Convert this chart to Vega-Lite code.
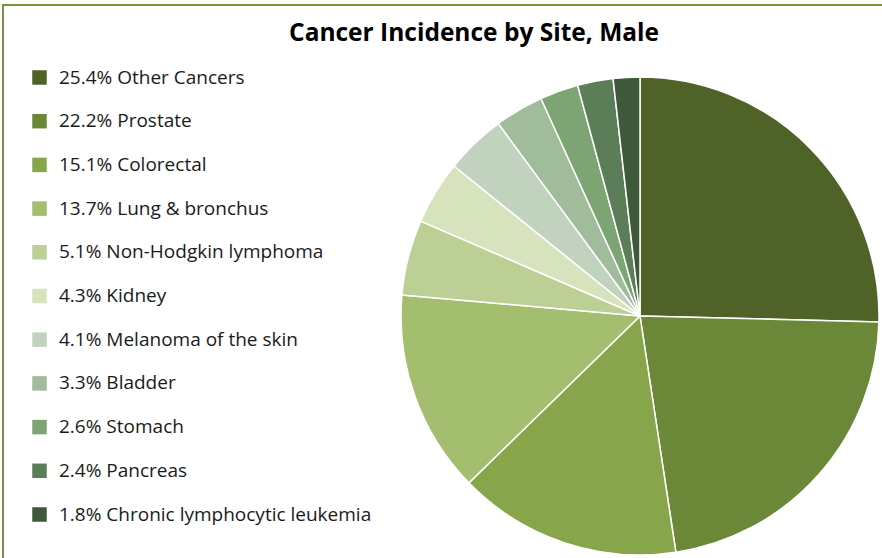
{
  "$schema": "https://vega.github.io/schema/vega-lite/v6.json",
  "autosize": "none",
  "width": 882,
  "height": 560,
  "padding": {"left": 3, "top": 5, "right": 0, "bottom": 0},
  "background": "white",
  "config": {
    "view": {"stroke": null},
    "font": "Open Sans"
  },
  "title": {
    "text": "Cancer Incidence by Site, Male",
    "font": "Open Sans",
    "fontSize": 24.5,
    "fontWeight": "bold",
    "color": "#000000",
    "anchor": "middle",
    "dx": 30,
    "dy": 42,
    "offset": 0
  },
  "datasets": {
    "sites": [
      {"order": 1, "site": "Other Cancers", "pct": 25.4, "label": "25.4% Other Cancers"},
      {"order": 2, "site": "Prostate", "pct": 22.2, "label": "22.2% Prostate"},
      {"order": 3, "site": "Colorectal", "pct": 15.1, "label": "15.1% Colorectal"},
      {"order": 4, "site": "Lung & bronchus", "pct": 13.7, "label": "13.7% Lung & bronchus"},
      {"order": 5, "site": "Non-Hodgkin lymphoma", "pct": 5.1, "label": "5.1% Non-Hodgkin lymphoma"},
      {"order": 6, "site": "Kidney", "pct": 4.3, "label": "4.3% Kidney"},
      {"order": 7, "site": "Melanoma of the skin", "pct": 4.1, "label": "4.1% Melanoma of the skin"},
      {"order": 8, "site": "Bladder", "pct": 3.3, "label": "3.3% Bladder"},
      {"order": 9, "site": "Stomach", "pct": 2.6, "label": "2.6% Stomach"},
      {"order": 10, "site": "Pancreas", "pct": 2.4, "label": "2.4% Pancreas"},
      {"order": 11, "site": "Chronic lymphocytic leukemia", "pct": 1.8, "label": "1.8% Chronic lymphocytic leukemia"}
    ],
    "frame": [{"name": "frame"}]
  },
  "layer": [
    {
      "data": {"name": "frame"},
      "mark": {"type": "rect", "fill": null, "stroke": "#77933C", "strokeWidth": 2},
      "encoding": {}
    },
    {
      "data": {"name": "sites"},
      "mark": {"type": "arc", "radius": 239, "xOffset": 196, "yOffset": 31, "stroke": "#ffffff", "strokeWidth": 1.5},
      "encoding": {
        "theta": {"field": "pct", "type": "quantitative", "stack": true},
        "order": {"field": "order", "type": "quantitative", "sort": "ascending"},
        "color": {
          "field": "label",
          "type": "nominal",
          "sort": {"field": "order"},
          "scale": {
            "domain": ["25.4% Other Cancers", "22.2% Prostate", "15.1% Colorectal", "13.7% Lung & bronchus", "5.1% Non-Hodgkin lymphoma", "4.3% Kidney", "4.1% Melanoma of the skin", "3.3% Bladder", "2.6% Stomach", "2.4% Pancreas", "1.8% Chronic lymphocytic leukemia"],
            "range": ["#4F6228", "#6A8838", "#87A54B", "#A3BE6E", "#BCD096", "#D6E3BC", "#C1D3BE", "#A0BC9A", "#7DA573", "#5B7D57", "#3E5A3A"]
          },
          "legend": {
            "orient": "none",
            "legendX": 27,
            "legendY": 63,
            "title": null,
            "symbolType": "square",
            "symbolSize": 210,
            "symbolStrokeWidth": 0,
            "labelFont": "Open Sans",
            "labelFontSize": 19,
            "labelColor": "#1a1a1a",
            "labelOffset": 10,
            "rowPadding": 23.7,
            "padding": 0,
            "labelLimit": 400
          }
        }
      }
    }
  ]
}
